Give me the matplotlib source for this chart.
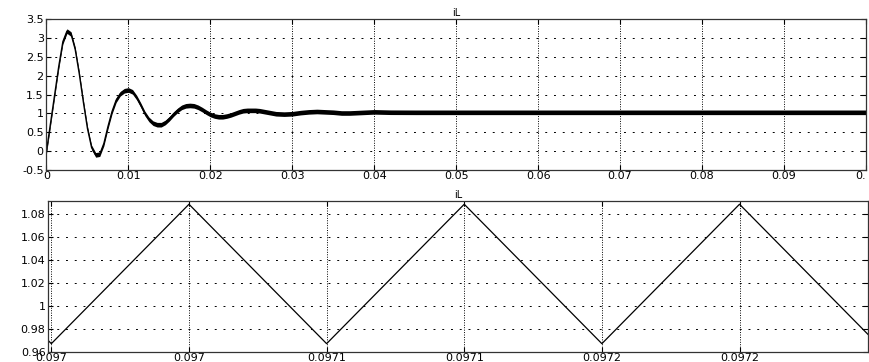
import matplotlib.pyplot as plt
import numpy as np

# iL transient (band centre)
t_full = [0.0000, 0.0005, 0.0010, 0.0015, 0.0020, 0.0025, 0.0030, 0.0035,
          0.0040, 0.0045, 0.0050, 0.0055, 0.0060, 0.0065, 0.0070, 0.0075,
          0.0080, 0.0085, 0.0090, 0.0095, 0.0100, 0.0105, 0.0110, 0.0115,
          0.0120, 0.0125, 0.0130, 0.0135, 0.0140, 0.0145, 0.0150, 0.0155,
          0.0160, 0.0165, 0.0170, 0.0175, 0.0180, 0.0185, 0.0190, 0.0195,
          0.0200, 0.0205, 0.0210, 0.0215, 0.0220, 0.0225, 0.0230, 0.0235,
          0.0240, 0.0245, 0.0250, 0.0255, 0.0260, 0.0270, 0.0280, 0.0290,
          0.0300, 0.0310, 0.0320, 0.0330, 0.0340, 0.0350, 0.0360, 0.0370,
          0.0380, 0.0390, 0.0400, 0.0420, 0.0450, 0.1000]
i_full = [0.00, 0.75, 1.50, 2.25, 2.90, 3.18, 3.10, 2.70,
          2.05, 1.30, 0.60, 0.10, -0.10, -0.08, 0.20, 0.65,
          1.05, 1.35, 1.52, 1.60, 1.62, 1.57, 1.42, 1.22,
          1.00, 0.84, 0.74, 0.70, 0.70, 0.76, 0.86, 0.98,
          1.08, 1.16, 1.20, 1.21, 1.20, 1.16, 1.10, 1.03,
          0.97, 0.93, 0.91, 0.91, 0.93, 0.96, 1.00, 1.04,
          1.07, 1.08, 1.08, 1.08, 1.07, 1.03, 0.99, 0.98,
          0.99, 1.02, 1.04, 1.05, 1.04, 1.03, 1.01, 1.01,
          1.02, 1.03, 1.04, 1.03, 1.028, 1.028]
ripple_half = 0.061

# zoomed ripple (triangle vertices)
t_zoom = [0.09695, 0.09700, 0.09705, 0.09710, 0.09715, 0.09720, 0.09725, 0.09730]
i_zoom = [1.0887, 0.967, 1.0887, 0.967, 1.0887, 0.967, 1.0887, 0.967]

top_xticks = [0, 0.01, 0.02, 0.03, 0.04, 0.05, 0.06, 0.07, 0.08, 0.09, 0.1]
top_xlabels = ["0", "0.01", "0.02", "0.03", "0.04", "0.05", "0.06", "0.07", "0.08", "0.09", "0."]
top_yticks = [-0.5, 0, 0.5, 1, 1.5, 2, 2.5, 3, 3.5]
top_ylabels = ["-0.5", "0", "0.5", "1", "1.5", "2", "2.5", "3", "3.5"]
bot_xticks = [0.09700, 0.09705, 0.09710, 0.09715, 0.09720, 0.09725]
bot_xlabels = ["0.097", "0.097", "0.0971", "0.0971", "0.0972", "0.0972"]
bot_yticks = [0.96, 0.98, 1.00, 1.02, 1.04, 1.06, 1.08]
bot_ylabels = ["0.96", "0.98", "1", "1.02", "1.04", "1.06", "1.08"]

plt.rcParams['font.family'] = 'DejaVu Sans'
fig = plt.figure(figsize=(8.69, 3.62), dpi=100)
ax1 = fig.add_axes([0.0535, 0.5304, 0.943, 0.4171])
ax2 = fig.add_axes([0.0556, 0.0285, 0.943, 0.4171])


def scope_style(ax):
    ax.tick_params(direction='in', top=True, right=True, length=3.5,
                   width=0.8, labelsize=8, colors='black')
    ax.tick_params(axis='x', pad=0.8)
    ax.tick_params(axis='y', pad=2)
    for s in ax.spines.values():
        s.set_linewidth(0.9)
        s.set_color('#333333')
    ax.xaxis.grid(True, color='black', linewidth=0.7, linestyle=(0, (1, 1.5)))
    ax.yaxis.grid(True, color='black', linewidth=0.7, linestyle=(0, (2, 7)))
    ax.set_axisbelow(True)


t = np.array(t_full)
i = np.array(i_full)
ax1.fill_between(t, i - ripple_half, i + ripple_half, color='black', linewidth=0)
ax1.plot(t, i, color='black', linewidth=1.0)
ax1.set_xlim(0, 0.1)
ax1.set_ylim(-0.5, 3.5)
ax1.set_xticks(top_xticks)
ax1.set_xticklabels(top_xlabels)
ax1.get_xticklabels()[-1].set_horizontalalignment('right')
ax1.set_yticks(top_yticks)
ax1.set_yticklabels(top_ylabels)
ax1.set_title("iL", fontsize=7, pad=2)
scope_style(ax1)

ax2.plot(t_zoom, i_zoom, color='black', linewidth=0.9)
ax2.set_xlim(0.0969989, 0.0972966)
ax2.set_ylim(0.9604, 1.0918)
ax2.set_xticks(bot_xticks)
ax2.set_xticklabels(bot_xlabels)
ax2.set_yticks(bot_yticks)
ax2.set_yticklabels(bot_ylabels)
ax2.set_title("iL", fontsize=7, pad=2)
scope_style(ax2)

fig.savefig("out.png", dpi=100)
